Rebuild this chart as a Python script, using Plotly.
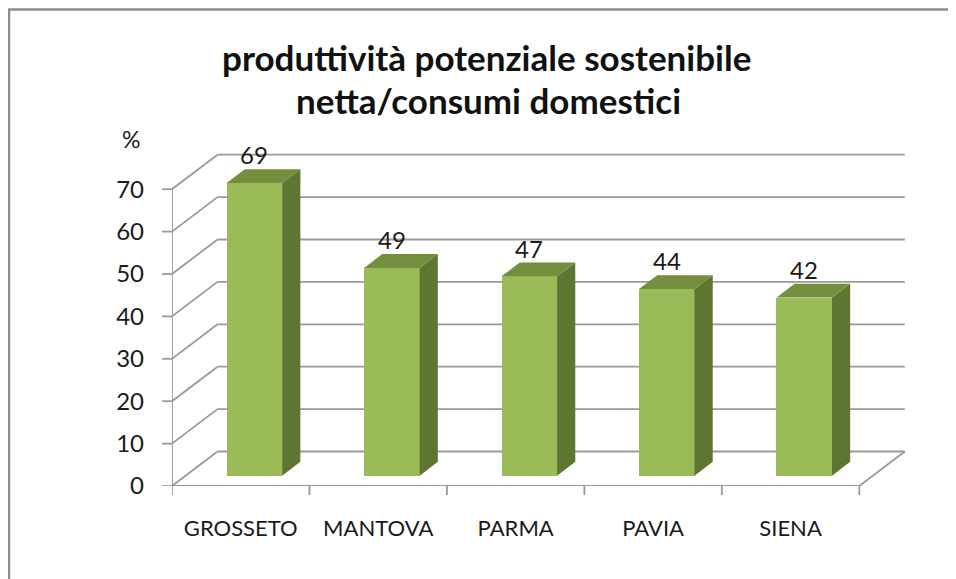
import plotly.graph_objects as go

# ---- data ----
categories = ["GROSSETO", "MANTOVA", "PARMA", "PAVIA", "SIENA"]
values = [69, 49, 47, 44, 42]
y_ticks = [0, 10, 20, 30, 40, 50, 60, 70]
title_lines = ["produttività potenziale sostenibile", "netta/consumi domestici"]
y_unit = "%"

# ---- layout geometry (figure pixels; page body adds 8px offset) ----
OFF = 8
W, H = 956, 579 - OFF
ML, MR, MT, MB = 172 - OFF, 49 + OFF, 150 - OFF, 93
px_per_x = 137.46
px_per_y = 4.24
plot_w = W - ML - MR
plot_h = H - MT - MB
x_range = [0, plot_w / px_per_x]
y_range = [0, plot_h / px_per_y]

def px(sx):   # screen x -> paper x
    return (sx - OFF - ML) / plot_w
def py(sy):   # screen y -> paper y
    return (H - MB - (sy - OFF)) / plot_h

DX = 45.5 / px_per_x      # full depth offset, x
DY = 34.5 / px_per_y      # full depth offset, y
d0, d1 = 0.3, 0.7         # bar depth fraction
bar_w = 0.404
n = len(categories)
ymax = max(y_ticks)

grid_col = "#9a9a9a"
front_col = "#9BBB59"
side_col = "#5F7532"
top_col = "#738E3C"
text_col = "#1a1a1a"
FONT = "Lato"

shapes = []
def seg(x0, y0, x1, y1, layer="below", w=1.8):
    shapes.append(dict(type="line", xref="x", yref="y", x0=x0, y0=y0, x1=x1, y1=y1,
                       line=dict(color=grid_col, width=w), layer=layer))

# back wall gridlines + side wall diagonals
for t in y_ticks:
    seg(DX, t + DY, n + DX, t + DY)
    seg(0, t, DX, t + DY)
# floor front and right edge
seg(0, 0, n, 0)
seg(n, 0, n + DX, DY)
# front vertical axis
seg(0, 0, 0, ymax)
# y tick marks (left)
for t in y_ticks:
    shapes.append(dict(type="line", xref="paper", yref="y",
                       x0=-10 / plot_w, x1=0, y0=t, y1=t,
                       line=dict(color=grid_col, width=1.8), layer="below"))
# x tick marks (down)
for i in range(n + 1):
    shapes.append(dict(type="line", xref="x", yref="paper",
                       x0=i, x1=i, y0=0, y1=-9 / plot_h,
                       line=dict(color=grid_col, width=1.8), layer="below"))
# outer frame
shapes.append(dict(type="rect", xref="paper", yref="paper",
                   x0=px(9), x1=px(1000), y0=py(620), y1=py(9.5),
                   line=dict(color="#8c8c8c", width=2.5), fillcolor="rgba(0,0,0,0)",
                   layer="below"))

fig = go.Figure()

xc = [i + 0.5 + d0 * DX for i in range(n)]
base = d0 * DY
ddx = (d1 - d0) * DX
ddy = (d1 - d0) * DY

# front faces
fig.add_trace(go.Bar(x=xc, y=values, base=[base] * n, width=bar_w,
                     marker=dict(color=front_col, line=dict(width=0)),
                     hoverinfo="skip", showlegend=False))

annotations = []
for i, v in enumerate(values):
    xl = xc[i] - bar_w / 2
    xr = xc[i] + bar_w / 2
    top = base + v
    # side face
    fig.add_trace(go.Scatter(
        x=[xr, xr + ddx, xr + ddx, xr, xr],
        y=[base, base + ddy, top + ddy, top, base],
        fill="toself", fillcolor=side_col, mode="lines",
        line=dict(width=0, color=side_col), hoverinfo="skip", showlegend=False))
    # top face
    fig.add_trace(go.Scatter(
        x=[xl, xr, xr + ddx, xl + ddx, xl],
        y=[top, top, top + ddy, top + ddy, top],
        fill="toself", fillcolor=top_col, mode="lines",
        line=dict(width=0, color=top_col), hoverinfo="skip", showlegend=False))
    annotations.append(dict(x=xc[i], y=top + ddy, xref="x", yref="y",
                            text=str(v), showarrow=False, xanchor="center",
                            yanchor="bottom", yshift=-2,
                            font=dict(size=24, color=text_col, family=FONT)))

annotations.append(dict(x=px(131), y=py(139), xref="paper", yref="paper",
                        text=y_unit, showarrow=False,
                        xanchor="center", yanchor="middle",
                        font=dict(size=23, color=text_col, family=FONT)))

# title (two centred lines)
for line, (sx, sy) in zip(title_lines, [(486, 57), (488, 100)]):
    annotations.append(dict(x=px(sx), y=py(sy), xref="paper", yref="paper",
                            text="<b>" + line + "</b>", showarrow=False,
                            xanchor="center", yanchor="middle",
                            font=dict(size=35, color="#111111", family=FONT)))

fig.update_layout(
    width=W, height=H,
    margin=dict(l=ML, r=MR, t=MT, b=MB, pad=0),
    paper_bgcolor="white", plot_bgcolor="white",
    xaxis=dict(range=x_range, showgrid=False, zeroline=False, showline=False,
               tickmode="array", tickvals=[i + 0.5 for i in range(n)],
               ticktext=categories, ticks="", ticklabelstandoff=27,
               tickfont=dict(size=22, color=text_col, family=FONT), fixedrange=True),
    yaxis=dict(range=y_range, showgrid=False, zeroline=False, showline=False,
               tickmode="array", tickvals=y_ticks, ticks="", ticklabelstandoff=27,
               tickfont=dict(size=24, color=text_col, family=FONT), fixedrange=True),
    shapes=shapes, annotations=annotations, bargap=0,
)

fig.write_html("out.html")
